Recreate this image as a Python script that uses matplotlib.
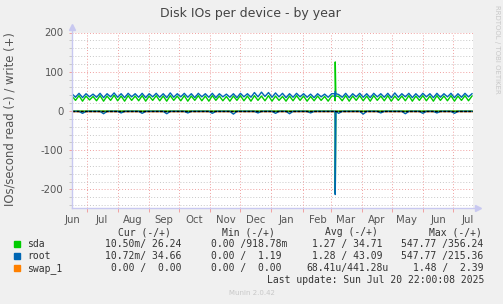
import matplotlib
matplotlib.use("Agg")
import matplotlib.pyplot as plt
import numpy as np
import pandas as pd

# series sampled every 3.5 days starting 2024-06-16 (write = +, read = -)
root_write = [
    44, 35, 45, 34, 44, 36, 43, 35, 45, 34,
    44, 36, 46, 35, 44, 34, 45, 36, 44, 35,
    45, 34, 44, 36, 45, 35, 44, 34, 46, 35,
    44, 36, 45, 35, 44, 34, 45, 36, 44, 35,
    45, 34, 44, 36, 43, 35, 44, 34, 45, 36,
    44, 35, 47, 36, 48, 37, 47, 35, 46, 36,
    45, 34, 44, 35, 45, 36, 44, 35, 43, 34,
    44, 36, 43, 35, 44, 36, 42, 35, 45, 34,
    44, 36, 45, 35, 44, 34, 45, 36, 44, 35,
    45, 34, 46, 35, 44, 36, 45, 34, 44, 35,
    45, 36, 44, 34, 45, 35, 44, 36, 45, 34,
    44, 35, 45, 36, 44]
sda_write = [
    38, 27, 39, 25, 38, 28, 37, 26, 39, 25,
    38, 27, 40, 26, 38, 25, 39, 27, 38, 26,
    39, 25, 38, 27, 39, 26, 38, 25, 39, 27,
    38, 26, 39, 25, 38, 27, 39, 26, 38, 25,
    39, 27, 38, 26, 37, 25, 38, 27, 39, 26,
    38, 25, 39, 27, 38, 26, 39, 25, 38, 27,
    37, 25, 38, 26, 39, 27, 38, 25, 37, 26,
    38, 27, 37, 25, 38, 26, 37, 26, 39, 25,
    38, 27, 39, 26, 38, 25, 39, 27, 38, 26,
    39, 25, 38, 27, 38, 26, 39, 25, 38, 27,
    39, 26, 38, 25, 39, 27, 38, 26, 39, 25,
    38, 27, 39, 26, 38]
root_read = [
    -1, -1, -1, -6, -1, -1, -1, -1, -1, -7,
    -1, -1, -1, -1, -5, -1, -1, -1, -1, -1,
    -6, -1, -1, -1, -1, -1, -1, -7, -1, -1,
    -1, -1, -1, -5, -1, -1, -1, -1, -1, -1,
    -6, -1, -1, -1, -1, -1, -8, -1, -1, -1,
    -1, -1, -1, -5, -1, -1, -1, -1, -6, -1,
    -1, -1, -7, -1, -1, -1, -1, -1, -5, -1,
    -1, -1, -1, -1, -1, -1, -6, -1, -1, -1,
    -1, -1, -1, -8, -1, -1, -1, -1, -5, -1,
    -1, -1, -1, -1, -1, -7, -1, -1, -1, -1,
    -6, -1, -1, -1, -5, -1, -1, -1, -1, -6,
    -1, -1, -1, -1, -1]
sda_read = [-0.5] * 115
swap_write = [0.0] * 115
swap_read = [0.0] * 115

# short spike at the start of March 2025
spike_days = [262.0, 262.6, 263.2]
spike_sda_write = [38, 125, 38]
spike_root_write = [44, 50, 44]
spike_sda_read = [-1, -210, -1]
spike_root_read = [-1, -213, -1]

legend_names = ["sda", "root", "swap_1"]
legend_colors = ["#00CC00", "#0066B3", "#FF8000"]
cur_vals = ["10.50m/ 26.24", "10.72m/ 34.66", "0.00 /  0.00"]
min_vals = ["0.00 /918.78m", "0.00 /  1.19", "0.00 /  0.00"]
avg_vals = ["1.27 / 34.71", "1.28 / 43.09", "68.41u/441.28u"]
max_vals = ["547.77 /356.24", "547.77 /215.36", "1.48 /  2.39"]

start = pd.Timestamp("2024-06-16")
days = np.arange(0, 400, 3.5)


def merged(vals, spike_vals):
    t = np.concatenate([days, spike_days])
    v = np.concatenate([vals, spike_vals])
    order = np.argsort(t, kind="stable")
    return t[order], v[order]


W, H = 503, 304
fig = plt.figure(figsize=(W / 100, H / 100), dpi=100, facecolor="#F0F0F0")
ax = fig.add_axes([72 / W, 1 - 208.3 / H, 401 / W, (208.3 - 32.5) / H])
ax.set_facecolor("white")
ax.set_xlim(0, 400)
ax.set_ylim(-248, 200)
for s in ax.spines.values():
    s.set_visible(False)

# grid
for y in range(-240, 201, 20):
    if y % 100 == 0:
        ax.axhline(y, color="#F0A0A0", lw=0.7, ls=(0, (1, 2)), zorder=1)
    else:
        ax.axhline(y, color="#C8C8C8", lw=0.7, ls=(0, (1, 2)), zorder=1)
month_starts = pd.date_range("2024-07-01", "2025-07-01", freq="MS")
for m in month_starts:
    ax.axvline((m - start).days, color="#F0A0A0", lw=0.7, ls=(0, (1, 2)), zorder=1)

c_sda, c_root, c_swap = legend_colors
t, v = merged(sda_read, spike_sda_read)
ax.plot(t, v, color=c_sda, lw=1.0, zorder=3)
t, v = merged(sda_write, spike_sda_write)
ax.plot(t, v, color=c_sda, lw=1.0, zorder=3)
t, v = merged(root_read, spike_root_read)
ax.plot(t, v, color=c_root, lw=1.0, zorder=4)
t, v = merged(root_write, spike_root_write)
ax.plot(t, v, color=c_root, lw=1.0, zorder=4)
ax.plot(days, swap_read, color=c_swap, lw=1.0, zorder=2)
ax.plot(days, swap_write, color=c_swap, lw=1.0, zorder=2)
ax.axhline(0, color="black", lw=1.0, ls=(0, (2, 1)), zorder=5)

# axes with arrows
ax.plot([0, 0], [0, 1.03], transform=ax.transAxes, color="#C8C8F0", lw=1, clip_on=False, zorder=6)
ax.plot([0, 1.013], [0, 0], transform=ax.transAxes, color="#C8C8F0", lw=1, clip_on=False, zorder=6)
ax.plot([0], [1.03], transform=ax.transAxes, marker="^", ms=4, color="#C8C8F0", clip_on=False)
ax.plot([1.013], [0], transform=ax.transAxes, marker=">", ms=4, color="#C8C8F0", clip_on=False)

# ticks
sans = "DejaVu Sans"
mono = "DejaVu Sans Mono"
label_pos = pd.date_range("2024-06-01", "2025-07-01", freq="MS") + pd.Timedelta(days=15)
ax.set_xticks([(d - start).days for d in label_pos])
ax.set_xticklabels([d.strftime("%b") for d in label_pos], family=sans, fontsize=7.3, color="#555555")
ax.set_xticks([(m - start).days for m in month_starts], minor=True)
ax.set_yticks([-200, -100, 0, 100, 200])
ax.set_yticklabels(["-200", "-100", "0", "100", "200"], family=sans, fontsize=7.3, color="#555555")
ax.set_yticks([y for y in range(-240, 201, 20) if y % 100 != 0], minor=True)
ax.tick_params(axis="x", which="major", length=0, pad=5)
ax.tick_params(axis="x", which="minor", length=3, width=0.7, color="#F0A0A0")
ax.tick_params(axis="y", which="major", length=2, width=0.7, color="#F0A0A0", pad=4)
ax.tick_params(axis="y", which="minor", length=2, width=0.7, color="#C8C8C8")

fig.text(250 / W, 1 - 13 / H, "Disk IOs per device - by year", ha="center", va="center",
         fontsize=9, color="#444444")
fig.text(10 / W, 1 - 119 / H, "IOs/second read (-) / write (+)", rotation=90, ha="center",
         va="center", fontsize=8.4, color="#555555")
fig.text(497 / W, 1 - 5 / H, "RRDTOOL / TOBI OETIKER", rotation=270, ha="center", va="top",
         fontsize=5, color="#C8C8C8")

# legend block
hy = 1 - 232.3 / H
for x, s in [(118.3, "Cur (-/+)"), (221.7, "Min (-/+)"), (325, "Avg (-/+)"), (429, "Max (-/+)")]:
    fig.text(x / W, hy, s, family=mono, fontsize=7, color="#333333", va="center")
row_y = [244.3, 256.3, 268.3]
cur_x = [104.7, 104.7, 110.7]
avg_x = [312.3, 312.3, 306.3]
max_x = [401, 401, 413.3]
for i, name in enumerate(legend_names):
    y = 1 - row_y[i] / H
    fig.patches.append(plt.Rectangle((14 / W, y - 3 / H), 6 / W, 6 / H, transform=fig.transFigure,
                                     color=legend_colors[i]))
    fig.text(27 / W, y, name, family=mono, fontsize=7, color="#333333", va="center")
    fig.text(cur_x[i] / W, y, cur_vals[i], family=mono, fontsize=7, color="#333333", va="center")
    fig.text(211.3 / W, y, min_vals[i], family=mono, fontsize=7, color="#333333", va="center")
    fig.text(avg_x[i] / W, y, avg_vals[i], family=mono, fontsize=7, color="#333333", va="center")
    fig.text(max_x[i] / W, y, max_vals[i], family=mono, fontsize=7, color="#333333", va="center")
fig.text(267.3 / W, 1 - 280 / H, "Last update: Sun Jul 20 22:00:08 2025", family=mono, fontsize=7,
         color="#333333", va="center")
fig.text(251.5 / W, 1 - 293.3 / H, "Munin 2.0.42", fontsize=5, color="#C8C8C8", ha="center", va="center")

fig.savefig("out.png", dpi=100, facecolor=fig.get_facecolor())
